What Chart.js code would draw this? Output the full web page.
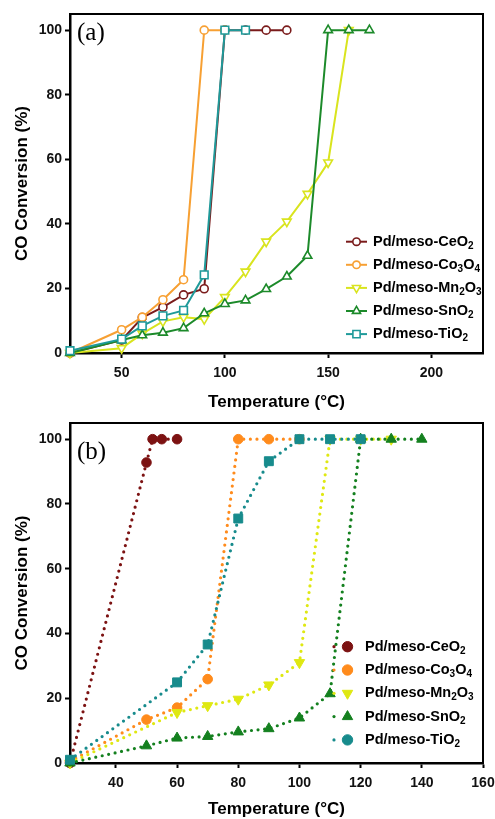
<!DOCTYPE html>
<html>
<head>
<meta charset="utf-8">
<script src="https://cdn.jsdelivr.net/npm/chart.js@4.4.1/dist/chart.umd.min.js"></script>
<style>
  html, body { margin: 0; padding: 0; background: #fff; }
  #wrap { position: relative; width: 495px; height: 819px; }
  canvas { position: absolute; left: 0; }
  #chartA { top: 0; }
  #chartB { top: 410px; }
</style>
</head>
<body>
<div id="wrap">
  <canvas id="chartA" width="495" height="410"></canvas>
  <canvas id="chartB" width="495" height="409"></canvas>
</div>
<script>
// ---- series names (digits are drawn as subscripts in the legend) ----
const catalysts = ['Pd/meso-CeO2', 'Pd/meso-Co3O4', 'Pd/meso-Mn2O3', 'Pd/meso-SnO2', 'Pd/meso-TiO2'];

// ---- panel (a): CO conversion (%) vs temperature (°C) ----
const tempA_CeO2 = [25, 50, 60, 70, 80, 90, 100, 110, 120, 130];
const convA_CeO2 = [0, 4, 11, 14.2, 18, 19.9, 100, 100, 100, 100];
const tempA_Co3O4 = [25, 50, 60, 70, 80, 90, 100];
const convA_Co3O4 = [0, 7.2, 11.1, 16.5, 22.7, 100, 100];
const tempA_Mn2O3 = [25, 50, 60, 70, 80, 90, 100, 110, 120, 130, 140, 150, 160];
const convA_Mn2O3 = [0, 1.5, 6, 9.8, 11.1, 10.5, 17.3, 25.2, 34.5, 40.7, 49.3, 59, 100];
const tempA_SnO2 = [25, 50, 60, 70, 80, 90, 100, 110, 120, 130, 140, 150, 160, 170];
const convA_SnO2 = [0, 4, 5.5, 6.3, 7.7, 12.3, 15.2, 16.3, 19.8, 23.7, 30.1, 100, 100, 100];
const tempA_TiO2 = [25, 50, 60, 70, 80, 90, 100, 110];
const convA_TiO2 = [0.7, 4.3, 8.4, 11.5, 13.2, 24.2, 100, 100];

// ---- panel (b) ----
const tempB_CeO2 = [25, 50, 52, 55, 60];
const convB_CeO2 = [0, 92.8, 100, 100, 100];
const tempB_Co3O4 = [25, 50, 60, 70, 80, 90, 100];
const convB_Co3O4 = [0.5, 13.4, 17.1, 25.9, 100, 100, 100];
const tempB_Mn2O3 = [25, 60, 70, 80, 90, 100, 110, 120, 130];
const convB_Mn2O3 = [0, 15.6, 17.7, 19.7, 24.1, 31, 100, 100, 100];
const tempB_SnO2 = [25, 50, 60, 70, 80, 90, 100, 110, 120, 130, 140];
const convB_SnO2 = [0, 5.3, 7.7, 8.2, 9.6, 10.6, 13.9, 21.4, 100, 100, 100];
const tempB_TiO2 = [25, 60, 70, 80, 90, 100, 110, 120];
const convB_TiO2 = [1, 24.9, 36.6, 75.5, 93.2, 100, 100, 100];

// ---- tick labels ----
const ticksA_x = [50, 100, 150, 200];
const ticksB_x = [40, 60, 80, 100, 120, 140, 160];
const ticks_y = [0, 20, 40, 60, 80, 100];

const FONT = '"Liberation Sans", Arial, Helvetica, sans-serif';

const colorsA = ['#7a1b1b', '#f7a033', '#d9e41e', '#1c8a2a', '#1f9a9a'];
const colorsB = ['#7c1212', '#ff8b1c', '#dfe812', '#14801f', '#178b8c'];
const styles = [
  { pointStyle: 'circle', rotation: 0 },
  { pointStyle: 'circle', rotation: 0 },
  { pointStyle: 'triangle', rotation: 180 },
  { pointStyle: 'triangle', rotation: 0 },
  { pointStyle: 'rect', rotation: 0 }
];

function pts(xs, ys) { return xs.map((x, i) => ({ x: x, y: ys[i] })); }

const dataA = [
  pts(tempA_CeO2, convA_CeO2), pts(tempA_Co3O4, convA_Co3O4), pts(tempA_Mn2O3, convA_Mn2O3),
  pts(tempA_SnO2, convA_SnO2), pts(tempA_TiO2, convA_TiO2)
];
const dataB = [
  pts(tempB_CeO2, convB_CeO2), pts(tempB_Co3O4, convB_Co3O4), pts(tempB_Mn2O3, convB_Mn2O3),
  pts(tempB_SnO2, convB_SnO2), pts(tempB_TiO2, convB_TiO2)
];

// marker sizes per style
function radiusA(i) { return styles[i].pointStyle === 'rect' ? 5.4 : (styles[i].pointStyle === 'triangle' ? 5 : 4); }
function radiusB(i) { return styles[i].pointStyle === 'rect' ? 6.3 : (styles[i].pointStyle === 'triangle' ? 6 : 4.8); }

function datasetsA() {
  return dataA.map((d, i) => ({
    label: catalysts[i], data: d,
    borderColor: colorsA[i], borderWidth: 2,
    pointStyle: styles[i].pointStyle, pointRotation: styles[i].rotation,
    pointRadius: radiusA(i), pointBorderWidth: 1.6,
    pointBorderColor: colorsA[i], pointBackgroundColor: '#ffffff',
    tension: 0, clip: false, order: 5 - i
  }));
}
function datasetsB() {
  return dataB.map((d, i) => ({
    label: catalysts[i], data: d,
    borderColor: colorsB[i], borderWidth: 3.2,
    borderDash: [0, 6.6], borderCapStyle: 'round',
    pointStyle: styles[i].pointStyle, pointRotation: styles[i].rotation,
    pointRadius: radiusB(i), pointBorderWidth: 1,
    pointBorderColor: colorsB[i], pointBackgroundColor: colorsB[i],
    tension: 0, clip: false, order: 5 - i
  }));
}

// text with digits set as subscripts
function drawSubText(ctx, text, x, y, size) {
  let cx = x;
  for (const ch of text) {
    const sub = /[0-9]/.test(ch);
    ctx.font = 'bold ' + (sub ? Math.round(size * 0.66) : size) + 'px ' + FONT;
    ctx.fillText(ch, cx, sub ? y + size * 0.3 : y);
    cx += ctx.measureText(ch).width;
  }
}

const panelDeco = {
  id: 'panelDeco',
  beforeDatasetsDraw(chart, args, o) {
    const ctx = chart.ctx, a = chart.chartArea;
    ctx.save();
    ctx.strokeStyle = '#000';
    ctx.lineWidth = 2;
    ctx.strokeRect(a.left, a.top, a.right - a.left, a.bottom - a.top);
    ctx.restore();
  },
  afterDraw(chart, args, o) {
    const ctx = chart.ctx, a = chart.chartArea;
    ctx.save();
    ctx.fillStyle = '#000';
    // panel tag
    ctx.font = '25px "Liberation Serif", "Times New Roman", serif';
    ctx.textBaseline = 'middle';
    ctx.textAlign = 'left';
    ctx.fillText(o.tag, a.left + 7, a.top + o.tagDy);
    // axis titles
    ctx.font = 'bold 17px ' + FONT;
    ctx.textAlign = 'center';
    ctx.fillText('Temperature (°C)', (a.left + a.right) / 2, o.xTitleY);
    ctx.save();
    ctx.translate(22, (a.top + a.bottom) / 2);
    ctx.rotate(-Math.PI / 2);
    ctx.fillText('CO Conversion (%)', 0, 0);
    ctx.restore();
    // legend
    const H = Chart.helpers;
    ctx.textAlign = 'left';
    ctx.textBaseline = 'middle';
    catalysts.forEach((name, i) => {
      const y = o.legTop + i * o.legStep;
      const col = o.colors[i];
      if (o.solid) {
        ctx.strokeStyle = col; ctx.lineWidth = 2; ctx.setLineDash([]);
        ctx.beginPath(); ctx.moveTo(o.lineX0, y); ctx.lineTo(o.lineX1, y); ctx.stroke();
        ctx.fillStyle = '#fff'; ctx.strokeStyle = col; ctx.lineWidth = 1.6;
        H.drawPoint(ctx, { pointStyle: styles[i].pointStyle, rotation: styles[i].rotation,
          radius: radiusA(i) - 0.3, borderWidth: 1.6 }, o.markX, y);
      } else {
        ctx.fillStyle = col;
        ctx.beginPath(); ctx.arc(o.lineX0, y, 1.6, 0, Math.PI * 2); ctx.fill();
        ctx.strokeStyle = col; ctx.lineWidth = 1;
        const tri = styles[i].pointStyle === 'triangle';
        H.drawPoint(ctx, { pointStyle: tri ? 'triangle' : 'circle', rotation: styles[i].rotation,
          radius: tri ? 6 : 5.2, borderWidth: 1 }, o.markX, y);
      }
      ctx.fillStyle = '#000';
      drawSubText(ctx, name, o.textX, y, 14.5);
    });
    ctx.restore();
  }
};

function scales(xmin, xmax, xticks, xHeight) {
  const tickFont = { family: FONT, size: 14, weight: 'bold' };
  return {
    x: {
      type: 'linear', min: xmin, max: xmax,
      afterBuildTicks: s => { s.ticks = xticks.map(v => ({ value: v })); },
      afterFit: s => { s.height = xHeight; s.paddingLeft = 0; s.paddingRight = 0; },
      grid: { display: true, drawOnChartArea: false, drawTicks: true, tickLength: 5, tickWidth: 2, tickColor: '#000', color: '#000' },
      border: { display: true, color: '#000', width: 2.5 },
      ticks: { color: '#111', font: tickFont, padding: 7, maxRotation: 0, autoSkip: false }
    },
    y: {
      type: 'linear', min: 0, max: 105,
      afterBuildTicks: s => { s.ticks = ticks_y.map(v => ({ value: v })); },
      afterFit: s => { s.width = 70; s.paddingTop = 0; s.paddingBottom = 0; },
      grid: { display: true, drawOnChartArea: false, drawTicks: true, tickLength: 5, tickWidth: 2, tickColor: '#000', color: '#000' },
      border: { display: true, color: '#000', width: 2.5 },
      ticks: { color: '#111', font: tickFont, padding: 3, autoSkip: false }
    }
  };
}

new Chart(document.getElementById('chartA'), {
  type: 'line',
  data: { datasets: datasetsA() },
  options: {
    responsive: false, animation: false, devicePixelRatio: 1, events: [],
    layout: { padding: { top: 14, right: 12, left: 0, bottom: 0 } },
    scales: scales(25, 225, ticksA_x, 57),
    plugins: {
      legend: { display: false }, tooltip: { enabled: false },
      panelDeco: { tag: '(a)', tagDy: 19, xTitleY: 402, colors: colorsA, solid: true,
        legTop: 241.7, legStep: 23.1, lineX0: 346, lineX1: 367, markX: 356.5, textX: 373 }
    }
  },
  plugins: [panelDeco]
});

new Chart(document.getElementById('chartB'), {
  type: 'line',
  data: { datasets: datasetsB() },
  options: {
    responsive: false, animation: false, devicePixelRatio: 1, events: [],
    layout: { padding: { top: 13, right: 12, left: 0, bottom: 0 } },
    scales: scales(25, 160, ticksB_x, 56),
    plugins: {
      legend: { display: false }, tooltip: { enabled: false },
      panelDeco: { tag: '(b)', tagDy: 29, xTitleY: 399, colors: colorsB, solid: false,
        legTop: 236.7, legStep: 23.3, lineX0: 334, lineX1: 342, markX: 347.5, textX: 365 }
    }
  },
  plugins: [panelDeco]
});
</script>
</body>
</html>
